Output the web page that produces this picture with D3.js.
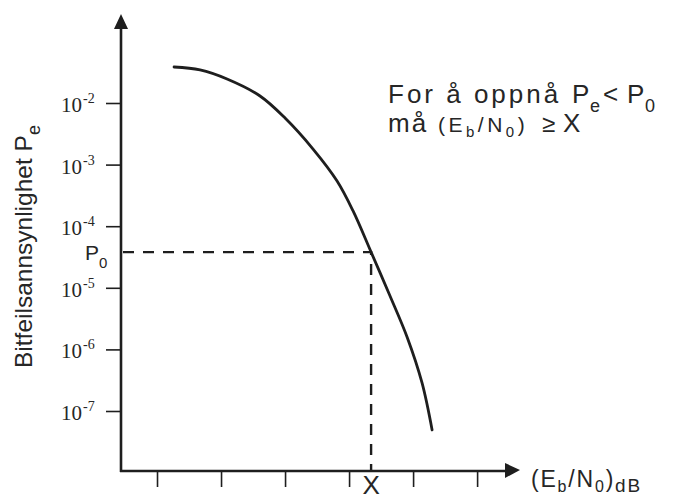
<!DOCTYPE html>
<html>
<head>
<meta charset="utf-8">
<script src="https://cdn.jsdelivr.net/npm/d3@7/dist/d3.min.js"></script>
<style>
  html, body { margin: 0; padding: 0; background: #fff; }
  svg { display: block; }
</style>
</head>
<body>
<script>
// Bit error probability versus Eb/N0 (dB) – a typical waterfall curve
const snrPoints = [1.266, 1.672, 2.094, 2.609, 3.0, 3.4375, 3.8125, 4.0625, 4.344, 4.64, 4.906, 5.14, 5.297];
const pePoints  = [3.84e-2, 3.44e-2, 2.45e-2, 1.30e-2, 5.70e-3, 1.79e-3, 5.42e-4, 1.77e-4, 3.8e-5, 7.36e-6, 1.59e-6, 2.85e-7, 4.92e-8];

// Required operating point: Pe < P0 demands Eb/N0 >= X
const p0Value = 3.8e-5;
const xValue = 4.344;

// Axis ticks
const yTickValues = [1e-2, 1e-3, 1e-4, 1e-5, 1e-6, 1e-7];
const yTickExponents = ["-2", "-3", "-4", "-5", "-6", "-7"];
const xTickValues = [1, 2, 3, 4, 5, 6];

const W = 673, H = 500;
const ink = "#1e1e1e";
const textInk = "#262626";
const sans = "'Liberation Sans', Arial, sans-serif";
const serif = "'Liberation Serif', 'Times New Roman', serif";

const svg = d3.select("body").append("svg").attr("width", W).attr("height", H);

const x = d3.scaleLinear().domain([0.4375, 6.67]).range([121, 520]);
const y = d3.scaleLog().domain([1e-2, 1e-7]).range([103, 411]);

const x0 = x.range()[0];
const yBase = 471;
const yTop = 14;

// Axis lines with arrowheads
svg.append("line").attr("x1", x0).attr("x2", x0).attr("y1", yBase + 1).attr("y2", yTop + 10)
  .attr("stroke", ink).attr("stroke-width", 2.6);
svg.append("line").attr("x1", x0 - 1).attr("x2", 508).attr("y1", yBase).attr("y2", yBase)
  .attr("stroke", ink).attr("stroke-width", 2.6);
svg.append("path")
  .attr("d", `M${x0},${yTop} L${x0 - 7},${yTop + 15} L${x0 + 7},${yTop + 15} Z`)
  .attr("fill", ink);
svg.append("path")
  .attr("d", `M520,${yBase - 1} L505,${yBase - 8} L505,${yBase + 7} Z`)
  .attr("fill", ink);

// Y axis ticks (log scale)
const yAxis = d3.axisLeft(y).tickValues(yTickValues).tickSize(15).tickFormat(() => "");
const gy = svg.append("g").attr("transform", `translate(${x0},0)`).call(yAxis);
gy.select(".domain").remove();
gy.selectAll(".tick line").attr("stroke", ink).attr("stroke-width", 1.6);

// Y tick labels as 10^n
yTickValues.forEach((v, i) => {
  const t = svg.append("text")
    .attr("x", 61).attr("y", y(v) + 9)
    .attr("font-family", serif).attr("font-size", 21).attr("fill", textInk);
  t.append("tspan").text("10");
  t.append("tspan").attr("dx", 1).attr("dy", -9).attr("font-size", 14).text(yTickExponents[i]);
});

// X axis ticks (unlabelled)
const xAxis = d3.axisBottom(x).tickValues(xTickValues).tickSize(16).tickFormat(() => "");
const gx = svg.append("g").attr("transform", `translate(0,${yBase})`).call(xAxis);
gx.select(".domain").remove();
gx.selectAll(".tick line").attr("stroke", ink).attr("stroke-width", 1.6);

// Dashed guides to the operating point
svg.append("path")
  .attr("d", `M${x0 + 2},${y(p0Value)} H${x(xValue)} V${yBase}`)
  .attr("fill", "none").attr("stroke", ink).attr("stroke-width", 2.4)
  .attr("stroke-dasharray", "11,9");

// Error probability curve
const line = d3.line()
  .x((d, i) => x(snrPoints[i]))
  .y(d => y(d))
  .curve(d3.curveCatmullRom.alpha(0.5));
svg.append("path")
  .datum(pePoints)
  .attr("d", line)
  .attr("fill", "none").attr("stroke", ink).attr("stroke-width", 2.8)
  .attr("stroke-linecap", "round");

// P0 marker on the y axis
const p0 = svg.append("text").attr("x", 85).attr("y", y(p0Value) + 8)
  .attr("font-family", sans).attr("font-size", 21).attr("fill", textInk);
p0.append("tspan").text("P");
p0.append("tspan").attr("dy", 8).attr("font-size", 15).text("0");

// X marker on the x axis
svg.append("text").attr("x", x(xValue)).attr("y", 494)
  .attr("text-anchor", "middle")
  .attr("font-family", sans).attr("font-size", 26).attr("fill", textInk).text("X");

// X axis title (Eb/N0)dB
const xt = svg.append("text").attr("x", 531).attr("y", 487)
  .attr("font-family", sans).attr("font-size", 23).attr("fill", textInk)
  .attr("letter-spacing", 1.8);
xt.append("tspan").text("(E");
xt.append("tspan").attr("dy", 5).attr("font-size", 16).text("b");
xt.append("tspan").attr("dy", -5).text("/N");
xt.append("tspan").attr("dy", 5).attr("font-size", 16).text("0");
xt.append("tspan").attr("dy", -5).text(")");
xt.append("tspan").attr("dy", 5).attr("font-size", 19).text("dB");

// Y axis title
const yt = svg.append("text")
  .attr("transform", "translate(32,368) rotate(-90)")
  .attr("font-family", sans).attr("font-size", 24.5).attr("fill", textInk);
yt.append("tspan").text("Bitfeilsannsynlighet P");
yt.append("tspan").attr("dy", 8).attr("font-size", 18).text("e");

// Annotation, first line: For å oppnå Pe < P0
const note1 = svg.append("text").attr("y", 103)
  .attr("font-family", sans).attr("font-size", 26).attr("fill", textInk);
note1.append("tspan").attr("x", 388).attr("letter-spacing", 3).text("For å oppnå");
note1.append("tspan").attr("x", 572).text("P");
note1.append("tspan").attr("x", 590).attr("dy", 9).attr("font-size", 18).text("e");
note1.append("tspan").attr("x", 603).attr("dy", -9).text("<");
note1.append("tspan").attr("x", 627).text("P");
note1.append("tspan").attr("x", 645).attr("dy", 9).attr("font-size", 18).text("0");

// Annotation, second line: må (Eb/N0) ≥ X
const note2 = svg.append("text").attr("y", 132)
  .attr("font-family", sans).attr("font-size", 26).attr("fill", textInk);
note2.append("tspan").attr("x", 388).attr("letter-spacing", 2).text("må");
const small = { big: 21, sub: 15, dy: 5, gap: 3.5 };
note2.append("tspan").attr("x", 438).attr("font-size", small.big).attr("letter-spacing", small.gap).text("(E");
note2.append("tspan").attr("dy", small.dy).attr("font-size", small.sub).attr("letter-spacing", small.gap).text("b");
note2.append("tspan").attr("dy", -small.dy).attr("font-size", small.big).attr("letter-spacing", small.gap).text("/N");
note2.append("tspan").attr("dy", small.dy).attr("font-size", small.sub).attr("letter-spacing", small.gap).text("0");
note2.append("tspan").attr("dy", -small.dy).attr("font-size", small.big).text(")");
note2.append("tspan").attr("x", 542).attr("font-size", 24).text("≥");
note2.append("tspan").attr("x", 563).attr("font-size", 26).text("X");
</script>
</body>
</html>
